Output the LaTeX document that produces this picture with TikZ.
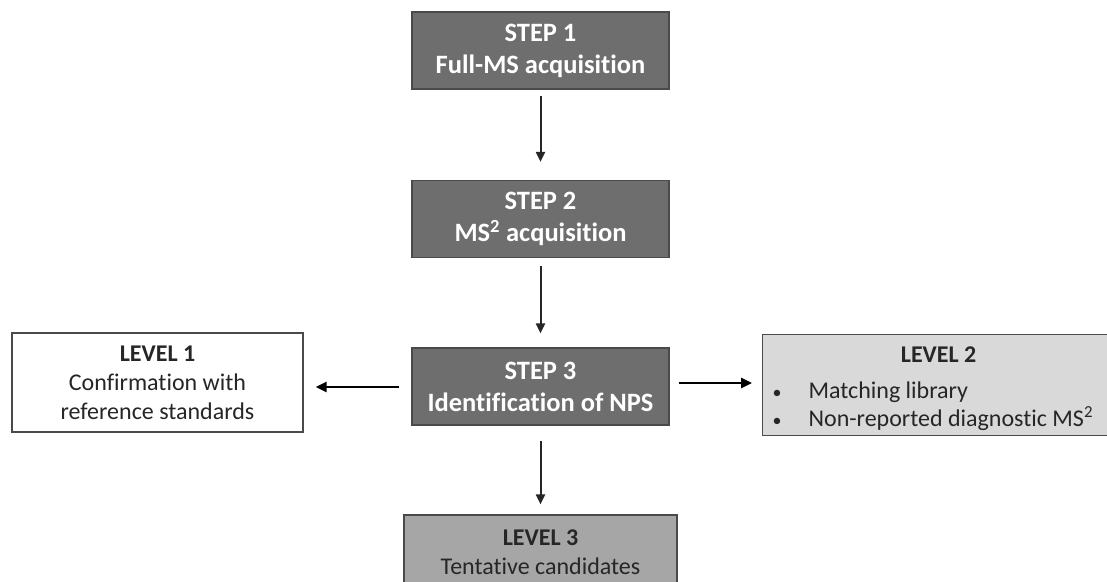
\documentclass[tikz,border=0pt]{standalone}
\usepackage{fontspec}
\setmainfont{Carlito}[Ligatures={NoCommon}]
\usetikzlibrary{arrows.meta}
\definecolor{stepfill}{HTML}{6E6E6E}
\definecolor{stepline}{HTML}{4A4A4A}
\definecolor{lvtwo}{HTML}{D9D9D9}
\definecolor{lvthree}{HTML}{A6A6A6}
\definecolor{lvtext}{HTML}{262626}
\tikzset{
  stepbox/.style={draw=stepline, line width=1.2pt, fill=stepfill, text=white,
    minimum width=257pt, minimum height=77pt, align=center, inner sep=0pt,
    font=\fontsize{26.5}{32}\selectfont\bfseries},
  levelbox/.style={draw=stepline, line width=1.2pt, text=lvtext, align=center, inner sep=0pt,
    font=\fontsize{24}{29}\selectfont},
  flow/.style={draw=black!85, line width=2pt, -{Triangle[length=10pt,width=9pt]}},
  sideflow/.style={flow, draw=black, line width=2.6pt, -{Triangle[length=11pt,width=10pt]}},
}
\begin{document}
\begin{tikzpicture}[x=1pt,y=-1pt]
\clip (0,0) rectangle (1107,581);
\fill[white] (0,0) rectangle (1107,581);
\node[stepbox] (s1) at (540.5,50.5) {STEP 1\\Full-MS acquisition};
\node[stepbox] (s2) at (540.5,219) {STEP 2\\MS\textsuperscript{2} acquisition};
\node[stepbox] (s3) at (540.5,386.5) {STEP 3\\Identification of NPS};
\node[levelbox, fill=white, minimum width=291pt, minimum height=99pt] (l1) at (157.5,382.5)
  {\textbf{LEVEL 1}\\Confirmation with\\reference standards};
\node[levelbox, fill=lvtwo, minimum height=100pt, inner xsep=10pt, inner ysep=0pt,
  anchor=west, font=\fontsize{24}{28}\selectfont] (l2) at (762,385)
  {\begin{tabular}{@{}p{36pt}@{}l@{}}
   \multicolumn{2}{@{}c@{}}{\rule{0pt}{28pt}\makebox[332pt][c]{\textbf{LEVEL 2}}}\\[8pt]
   \scalebox{0.75}{\textbullet} & Matching library\\
   \scalebox{0.75}{\textbullet} & Non-reported diagnostic MS\textsuperscript{2}
   \end{tabular}};
\node[levelbox, fill=lvthree, minimum width=273pt, minimum height=75pt] (l3) at (540.5,552.5)
  {\textbf{LEVEL 3}\\Tentative candidates};
\draw[flow, shorten <=6pt, shorten >=18pt] (s1) -- (s2);
\draw[flow, shorten <=8pt, shorten >=14pt] (s2) -- (s3);
\draw[flow, shorten <=15pt, shorten >=10pt] (s3) -- (l3);
\draw[sideflow, shorten <=12pt, shorten >=12pt] (s3.west |- 0,387) -- (l1.east |- 0,387);
\draw[sideflow, shorten <=9pt, shorten >=10pt] (s3.east |- 0,383) -- (l2.west |- 0,383);
\end{tikzpicture}
\end{document}
